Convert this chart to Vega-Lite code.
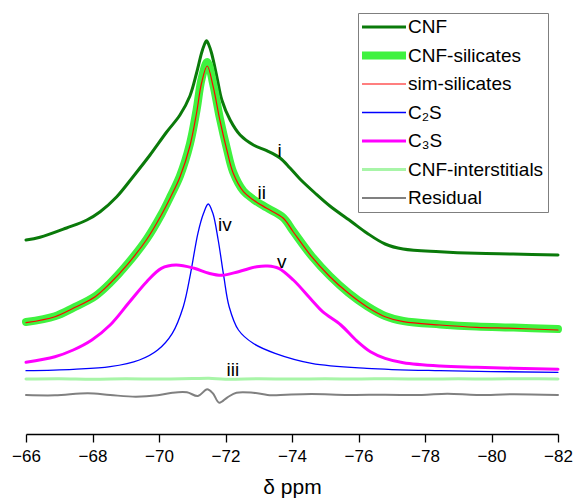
{
  "$schema": "https://vega.github.io/schema/vega-lite/v6.json",
  "width": 532,
  "height": 434,
  "autosize": {"type": "none"},
  "padding": {"left": 26, "top": 0, "right": 16, "bottom": 67},
  "background": "white",
  "config": {"view": {"stroke": null}, "font": "Liberation Sans"},
  "datasets": {
    "spectra": [
      {"series": "CNF", "ppm": -66.0, "intensity": 194},
      {"series": "CNF", "ppm": -66.42, "intensity": 196.7},
      {"series": "CNF", "ppm": -67.22, "intensity": 206},
      {"series": "CNF", "ppm": -67.83, "intensity": 214},
      {"series": "CNF", "ppm": -68.23, "intensity": 222.3},
      {"series": "CNF", "ppm": -68.73, "intensity": 237.3},
      {"series": "CNF", "ppm": -69.22, "intensity": 257.3},
      {"series": "CNF", "ppm": -69.73, "intensity": 279},
      {"series": "CNF", "ppm": -70.23, "intensity": 302},
      {"series": "CNF", "ppm": -70.63, "intensity": 319},
      {"series": "CNF", "ppm": -70.93, "intensity": 338},
      {"series": "CNF", "ppm": -71.13, "intensity": 361},
      {"series": "CNF", "ppm": -71.28, "intensity": 381},
      {"series": "CNF", "ppm": -71.36, "intensity": 389},
      {"series": "CNF", "ppm": -71.43, "intensity": 393.3},
      {"series": "CNF", "ppm": -71.5, "intensity": 389},
      {"series": "CNF", "ppm": -71.58, "intensity": 381},
      {"series": "CNF", "ppm": -71.74, "intensity": 357.3},
      {"series": "CNF", "ppm": -71.89, "intensity": 334},
      {"series": "CNF", "ppm": -72.14, "intensity": 314},
      {"series": "CNF", "ppm": -72.44, "intensity": 299},
      {"series": "CNF", "ppm": -72.84, "intensity": 289},
      {"series": "CNF", "ppm": -73.24, "intensity": 283.3},
      {"series": "CNF", "ppm": -73.64, "intensity": 276},
      {"series": "CNF", "ppm": -73.94, "intensity": 266},
      {"series": "CNF", "ppm": -74.24, "intensity": 255},
      {"series": "CNF", "ppm": -74.69, "intensity": 241},
      {"series": "CNF", "ppm": -75.14, "intensity": 228},
      {"series": "CNF", "ppm": -75.8, "intensity": 212},
      {"series": "CNF", "ppm": -76.25, "intensity": 201},
      {"series": "CNF", "ppm": -76.8, "intensity": 190},
      {"series": "CNF", "ppm": -77.34, "intensity": 185},
      {"series": "CNF", "ppm": -78.45, "intensity": 182.3},
      {"series": "CNF", "ppm": -79.55, "intensity": 180.7},
      {"series": "CNF", "ppm": -80.65, "intensity": 180},
      {"series": "CNF", "ppm": -82.0, "intensity": 179},

      {"series": "CNF-silicates", "ppm": -66.0, "intensity": 112},
      {"series": "CNF-silicates", "ppm": -66.87, "intensity": 117.8},
      {"series": "CNF-silicates", "ppm": -67.42, "intensity": 126.2},
      {"series": "CNF-silicates", "ppm": -68.08, "intensity": 137.8},
      {"series": "CNF-silicates", "ppm": -68.53, "intensity": 151},
      {"series": "CNF-silicates", "ppm": -69.08, "intensity": 171.2},
      {"series": "CNF-silicates", "ppm": -69.63, "intensity": 195},
      {"series": "CNF-silicates", "ppm": -70.07, "intensity": 219.5},
      {"series": "CNF-silicates", "ppm": -70.35, "intensity": 238},
      {"series": "CNF-silicates", "ppm": -70.63, "intensity": 258},
      {"series": "CNF-silicates", "ppm": -70.93, "intensity": 290},
      {"series": "CNF-silicates", "ppm": -71.13, "intensity": 324},
      {"series": "CNF-silicates", "ppm": -71.28, "intensity": 355},
      {"series": "CNF-silicates", "ppm": -71.45, "intensity": 372},
      {"series": "CNF-silicates", "ppm": -71.63, "intensity": 350},
      {"series": "CNF-silicates", "ppm": -71.83, "intensity": 316},
      {"series": "CNF-silicates", "ppm": -72.04, "intensity": 285.5},
      {"series": "CNF-silicates", "ppm": -72.23, "intensity": 262},
      {"series": "CNF-silicates", "ppm": -72.54, "intensity": 243},
      {"series": "CNF-silicates", "ppm": -72.84, "intensity": 234.6},
      {"series": "CNF-silicates", "ppm": -73.24, "intensity": 226.3},
      {"series": "CNF-silicates", "ppm": -73.74, "intensity": 216.3},
      {"series": "CNF-silicates", "ppm": -74.04, "intensity": 202.6},
      {"series": "CNF-silicates", "ppm": -74.59, "intensity": 178},
      {"series": "CNF-silicates", "ppm": -75.14, "intensity": 158},
      {"series": "CNF-silicates", "ppm": -75.7, "intensity": 141.2},
      {"series": "CNF-silicates", "ppm": -76.25, "intensity": 128},
      {"series": "CNF-silicates", "ppm": -76.8, "intensity": 118},
      {"series": "CNF-silicates", "ppm": -77.35, "intensity": 113},
      {"series": "CNF-silicates", "ppm": -78.45, "intensity": 109.6},
      {"series": "CNF-silicates", "ppm": -79.55, "intensity": 107.4},
      {"series": "CNF-silicates", "ppm": -80.66, "intensity": 106.4},
      {"series": "CNF-silicates", "ppm": -82.0, "intensity": 105},

      {"series": "sim-silicates", "ppm": -66.0, "intensity": 111.3},
      {"series": "sim-silicates", "ppm": -66.87, "intensity": 117.3},
      {"series": "sim-silicates", "ppm": -67.42, "intensity": 125.7},
      {"series": "sim-silicates", "ppm": -68.08, "intensity": 137.3},
      {"series": "sim-silicates", "ppm": -68.53, "intensity": 150.7},
      {"series": "sim-silicates", "ppm": -69.08, "intensity": 170.7},
      {"series": "sim-silicates", "ppm": -69.63, "intensity": 194.5},
      {"series": "sim-silicates", "ppm": -70.07, "intensity": 219},
      {"series": "sim-silicates", "ppm": -70.35, "intensity": 237},
      {"series": "sim-silicates", "ppm": -70.63, "intensity": 257},
      {"series": "sim-silicates", "ppm": -70.93, "intensity": 288},
      {"series": "sim-silicates", "ppm": -71.13, "intensity": 321},
      {"series": "sim-silicates", "ppm": -71.28, "intensity": 351},
      {"series": "sim-silicates", "ppm": -71.45, "intensity": 368},
      {"series": "sim-silicates", "ppm": -71.63, "intensity": 347.3},
      {"series": "sim-silicates", "ppm": -71.83, "intensity": 314},
      {"series": "sim-silicates", "ppm": -72.04, "intensity": 284},
      {"series": "sim-silicates", "ppm": -72.23, "intensity": 261},
      {"series": "sim-silicates", "ppm": -72.54, "intensity": 242.3},
      {"series": "sim-silicates", "ppm": -72.84, "intensity": 234},
      {"series": "sim-silicates", "ppm": -73.24, "intensity": 225.7},
      {"series": "sim-silicates", "ppm": -73.74, "intensity": 215.7},
      {"series": "sim-silicates", "ppm": -74.04, "intensity": 202},
      {"series": "sim-silicates", "ppm": -74.59, "intensity": 177.3},
      {"series": "sim-silicates", "ppm": -75.14, "intensity": 157.3},
      {"series": "sim-silicates", "ppm": -75.7, "intensity": 140.7},
      {"series": "sim-silicates", "ppm": -76.25, "intensity": 127.3},
      {"series": "sim-silicates", "ppm": -76.8, "intensity": 117.3},
      {"series": "sim-silicates", "ppm": -77.35, "intensity": 112.3},
      {"series": "sim-silicates", "ppm": -78.45, "intensity": 109},
      {"series": "sim-silicates", "ppm": -79.55, "intensity": 106.7},
      {"series": "sim-silicates", "ppm": -80.66, "intensity": 105.7},
      {"series": "sim-silicates", "ppm": -82.0, "intensity": 104},

      {"series": "C₂S", "ppm": -66.0, "intensity": 63.3},
      {"series": "C₂S", "ppm": -67.42, "intensity": 64.7},
      {"series": "C₂S", "ppm": -68.53, "intensity": 67.3},
      {"series": "C₂S", "ppm": -69.41, "intensity": 74},
      {"series": "C₂S", "ppm": -69.96, "intensity": 84},
      {"series": "C₂S", "ppm": -70.4, "intensity": 100.7},
      {"series": "C₂S", "ppm": -70.73, "intensity": 127.3},
      {"series": "C₂S", "ppm": -70.95, "intensity": 160.7},
      {"series": "C₂S", "ppm": -71.17, "intensity": 200.7},
      {"series": "C₂S", "ppm": -71.34, "intensity": 220.7},
      {"series": "C₂S", "ppm": -71.48, "intensity": 230},
      {"series": "C₂S", "ppm": -71.62, "intensity": 220.7},
      {"series": "C₂S", "ppm": -71.78, "intensity": 194},
      {"series": "C₂S", "ppm": -71.95, "intensity": 157.3},
      {"series": "C₂S", "ppm": -72.11, "intensity": 127.3},
      {"series": "C₂S", "ppm": -72.39, "intensity": 104},
      {"series": "C₂S", "ppm": -72.83, "intensity": 90.7},
      {"series": "C₂S", "ppm": -73.49, "intensity": 80.7},
      {"series": "C₂S", "ppm": -74.59, "intensity": 70.7},
      {"series": "C₂S", "ppm": -76.25, "intensity": 65.7},
      {"series": "C₂S", "ppm": -78.45, "intensity": 63.3},
      {"series": "C₂S", "ppm": -82.0, "intensity": 61.7},

      {"series": "C₃S", "ppm": -66.0, "intensity": 71.7},
      {"series": "C₃S", "ppm": -66.87, "intensity": 77.3},
      {"series": "C₃S", "ppm": -67.42, "intensity": 84},
      {"series": "C₃S", "ppm": -67.98, "intensity": 94},
      {"series": "C₃S", "ppm": -68.53, "intensity": 109},
      {"series": "C₃S", "ppm": -69.08, "intensity": 130.7},
      {"series": "C₃S", "ppm": -69.63, "intensity": 152.3},
      {"series": "C₃S", "ppm": -70.07, "intensity": 165.7},
      {"series": "C₃S", "ppm": -70.51, "intensity": 169},
      {"series": "C₃S", "ppm": -71.06, "intensity": 165.7},
      {"series": "C₃S", "ppm": -71.5, "intensity": 160.7},
      {"series": "C₃S", "ppm": -71.89, "intensity": 158.7},
      {"series": "C₃S", "ppm": -72.39, "intensity": 162.3},
      {"series": "C₃S", "ppm": -72.94, "intensity": 167.3},
      {"series": "C₃S", "ppm": -73.27, "intensity": 168},
      {"series": "C₃S", "ppm": -73.6, "intensity": 165.7},
      {"series": "C₃S", "ppm": -74.04, "intensity": 154},
      {"series": "C₃S", "ppm": -74.59, "intensity": 134},
      {"series": "C₃S", "ppm": -74.92, "intensity": 122.3},
      {"series": "C₃S", "ppm": -75.47, "intensity": 109},
      {"series": "C₃S", "ppm": -75.92, "intensity": 94},
      {"series": "C₃S", "ppm": -76.36, "intensity": 82.3},
      {"series": "C₃S", "ppm": -76.8, "intensity": 75.7},
      {"series": "C₃S", "ppm": -77.35, "intensity": 71.3},
      {"series": "C₃S", "ppm": -78.45, "intensity": 68},
      {"series": "C₃S", "ppm": -79.55, "intensity": 66.7},
      {"series": "C₃S", "ppm": -82.0, "intensity": 64.7},

      {"series": "CNF-interstitials", "ppm": -66.0, "intensity": 55},
      {"series": "CNF-interstitials", "ppm": -67.0, "intensity": 55.3},
      {"series": "CNF-interstitials", "ppm": -68.0, "intensity": 54.8},
      {"series": "CNF-interstitials", "ppm": -69.0, "intensity": 55.2},
      {"series": "CNF-interstitials", "ppm": -70.0, "intensity": 55},
      {"series": "CNF-interstitials", "ppm": -71.0, "intensity": 55.4},
      {"series": "CNF-interstitials", "ppm": -71.5, "intensity": 55.8},
      {"series": "CNF-interstitials", "ppm": -72.0, "intensity": 54.8},
      {"series": "CNF-interstitials", "ppm": -73.0, "intensity": 55.2},
      {"series": "CNF-interstitials", "ppm": -74.0, "intensity": 54.9},
      {"series": "CNF-interstitials", "ppm": -75.0, "intensity": 55.2},
      {"series": "CNF-interstitials", "ppm": -76.0, "intensity": 55},
      {"series": "CNF-interstitials", "ppm": -77.0, "intensity": 55.3},
      {"series": "CNF-interstitials", "ppm": -78.0, "intensity": 54.9},
      {"series": "CNF-interstitials", "ppm": -79.0, "intensity": 55.2},
      {"series": "CNF-interstitials", "ppm": -80.0, "intensity": 55},
      {"series": "CNF-interstitials", "ppm": -81.0, "intensity": 55.3},
      {"series": "CNF-interstitials", "ppm": -82.0, "intensity": 55.1},

      {"series": "Residual", "ppm": -66.0, "intensity": 39},
      {"series": "Residual", "ppm": -66.87, "intensity": 38.7},
      {"series": "Residual", "ppm": -67.86, "intensity": 40.7},
      {"series": "Residual", "ppm": -68.53, "intensity": 39},
      {"series": "Residual", "ppm": -69.3, "intensity": 37.3},
      {"series": "Residual", "ppm": -69.96, "intensity": 38.7},
      {"series": "Residual", "ppm": -70.4, "intensity": 41.3},
      {"series": "Residual", "ppm": -70.84, "intensity": 41.7},
      {"series": "Residual", "ppm": -71.17, "intensity": 38},
      {"series": "Residual", "ppm": -71.45, "intensity": 44.7},
      {"series": "Residual", "ppm": -71.62, "intensity": 40.7},
      {"series": "Residual", "ppm": -71.81, "intensity": 31.3},
      {"series": "Residual", "ppm": -72.06, "intensity": 36.7},
      {"series": "Residual", "ppm": -72.33, "intensity": 41.3},
      {"series": "Residual", "ppm": -72.83, "intensity": 41.3},
      {"series": "Residual", "ppm": -73.38, "intensity": 38.7},
      {"series": "Residual", "ppm": -73.82, "intensity": 39.3},
      {"series": "Residual", "ppm": -74.59, "intensity": 40},
      {"series": "Residual", "ppm": -75.7, "intensity": 39},
      {"series": "Residual", "ppm": -76.8, "intensity": 39.3},
      {"series": "Residual", "ppm": -77.9, "intensity": 39},
      {"series": "Residual", "ppm": -78.67, "intensity": 40.3},
      {"series": "Residual", "ppm": -79.55, "intensity": 39},
      {"series": "Residual", "ppm": -80.66, "intensity": 39.7},
      {"series": "Residual", "ppm": -82.0, "intensity": 39}
    ],
    "peaks": [
      {"label": "i", "ppm": -73.63, "intensity": 283},
      {"label": "ii", "ppm": -73.09, "intensity": 241},
      {"label": "iii", "ppm": -72.22, "intensity": 64},
      {"label": "iv", "ppm": -71.98, "intensity": 209},
      {"label": "v", "ppm": -73.69, "intensity": 172}
    ]
  },
  "layer": [
    {
      "data": {"name": "spectra"},
      "mark": {"type": "line", "interpolate": "catmull-rom", "strokeJoin": "round", "strokeCap": "round"},
      "encoding": {
        "x": {
          "field": "ppm",
          "type": "quantitative",
          "scale": {"domain": [-66, -82], "nice": false, "zero": false},
          "title": "δ ppm",
          "axis": {
            "values": [-66, -67, -68, -69, -70, -71, -72, -73, -74, -75, -76, -77, -78, -79, -80, -81, -82],
            "labelExpr": "datum.value % 2 === 0 ? datum.label : ''",
            "tickSize": {"condition": {"test": "datum.value % 2 === 0", "value": 8}, "value": 4},
            "grid": false,
            "domainColor": "black",
            "domainWidth": 1.3,
            "tickColor": "black",
            "tickWidth": 1.3,
            "labelFont": "Liberation Sans",
            "labelFontSize": 17,
            "labelColor": "black",
            "labelPadding": 6,
            "labelFlush": false,
            "labelOverlap": false,
            "titleFont": "Liberation Sans",
            "titleFontSize": 21,
            "titleFontWeight": "normal",
            "titleColor": "black",
            "titlePadding": 12
          }
        },
        "y": {
          "field": "intensity",
          "type": "quantitative",
          "scale": {"domain": [0, 434], "nice": false, "zero": false},
          "axis": null
        },
        "color": {
          "field": "series",
          "type": "nominal",
          "scale": {
            "domain": ["CNF", "CNF-silicates", "sim-silicates", "C₂S", "C₃S", "CNF-interstitials", "Residual"],
            "range": ["#0a7a0a", "#3ff23f", "#ff0000", "#0000ff", "#ff00ff", "#a8f5a8", "#808080"]
          },
          "legend": {
            "title": null,
            "orient": "none",
            "legendX": 332,
            "legendY": 13,
            "padding": 4,
            "strokeColor": "#7f7f7f",
            "fillColor": "white",
            "symbolType": "stroke",
            "symbolSize": 1936,
            "symbolOffset": -4,
            "clipHeight": 20,
            "rowPadding": 8.5,
            "labelOffset": -2,
            "labelFont": "Liberation Sans",
            "labelFontSize": 19,
            "labelColor": "black",
            "labelLimit": 300
          }
        },
        "strokeWidth": {
          "field": "series",
          "type": "nominal",
          "scale": {
            "type": "ordinal",
            "domain": ["CNF", "CNF-silicates", "sim-silicates", "C₂S", "C₃S", "CNF-interstitials", "Residual"],
            "range": [3, 8, 1.2, 1.3, 3, 3, 2]
          },
          "legend": {
            "title": null,
            "orient": "none",
            "legendX": 332,
            "legendY": 13,
            "padding": 4,
            "strokeColor": "#7f7f7f",
            "fillColor": "white",
            "symbolType": "stroke",
            "symbolSize": 1936,
            "symbolOffset": -4,
            "clipHeight": 20,
            "rowPadding": 8.5,
            "labelOffset": -2,
            "labelFont": "Liberation Sans",
            "labelFontSize": 19,
            "labelColor": "black",
            "labelLimit": 300
          }
        },
        "order": {"field": "ppm", "sort": "descending"}
      }
    },
    {
      "data": {"name": "peaks"},
      "mark": {"type": "text", "font": "Liberation Sans", "fontSize": 19, "color": "black", "align": "center", "baseline": "middle"},
      "encoding": {
        "x": {"field": "ppm", "type": "quantitative"},
        "y": {"field": "intensity", "type": "quantitative"},
        "text": {"field": "label"}
      }
    }
  ]
}
